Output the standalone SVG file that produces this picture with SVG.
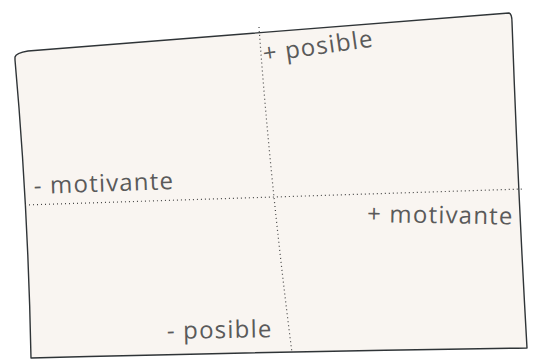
<svg xmlns="http://www.w3.org/2000/svg" width="537" height="360" viewBox="0 0 537 360">
<style>
.frame{fill:#f9f5f1;stroke:#2f3437;stroke-width:1.4;stroke-linejoin:round}
.axis{fill:none;stroke:#444;stroke-width:1.2;stroke-dasharray:1 3}
.lbl{font-family:"Open Sans","Liberation Sans",sans-serif;font-size:24px;fill:#5a5a5a;letter-spacing:1.2px}
</style>
<rect width="537" height="360" fill="#ffffff"/>
<g id="board">
<path class="frame" d="M15,57 Q16,53 28,51 L509,13 Q512,14 512,22 Q518,190 527,348 Q300,351 31,358 Q28,205 15,60 Z"/>
</g>
<g id="connectors">
<path class="axis" d="M259,27 Q270,180 292,353"/>
<path class="axis" d="M25,205 L523,189"/>
</g>
<g id="label-mas-posible"><text class="lbl" x="264" y="62" transform="rotate(-8 264 62)">+ posible</text></g>
<g id="label-menos-motivante"><text class="lbl" x="34" y="194" transform="rotate(-2 34 194)">- motivante</text></g>
<g id="label-mas-motivante"><text class="lbl" x="367" y="222" transform="rotate(1 367 222)">+ motivante</text></g>
<g id="label-menos-posible"><text class="lbl" x="167" y="339" transform="rotate(-1 167 339)">- posible</text></g>
</svg>
